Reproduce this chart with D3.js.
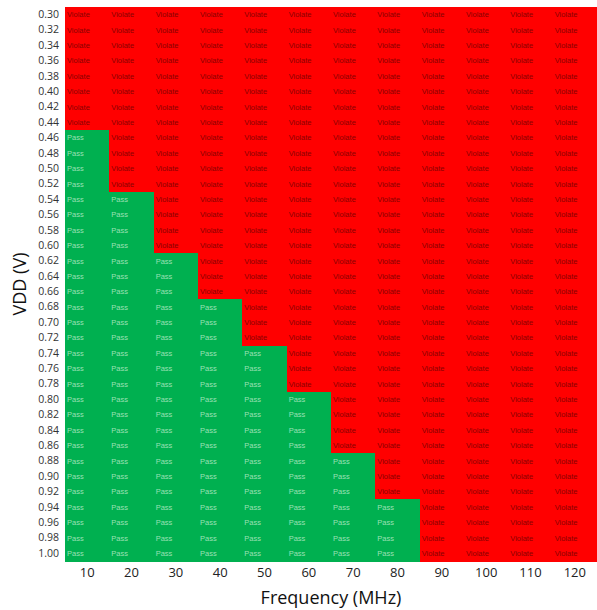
<!DOCTYPE html>
<html>
<head>
<meta charset="utf-8">
<script src="https://cdn.jsdelivr.net/npm/d3@7"></script>
<style>
  body { margin: 0; background: #fff; }
  text { font-family: "Open Sans", "Noto Sans", sans-serif; }
</style>
</head>
<body>
<div id="chart"></div>
<script>
var freqs = [10, 20, 30, 40, 50, 60, 70, 80, 90, 100, 110, 120];
var vdds = ["0.30","0.32","0.34","0.36","0.38","0.40","0.42","0.44","0.46","0.48",
            "0.50","0.52","0.54","0.56","0.58","0.60","0.62","0.64","0.66","0.68",
            "0.70","0.72","0.74","0.76","0.78","0.80","0.82","0.84","0.86","0.88",
            "0.90","0.92","0.94","0.96","0.98","1.00"];
// lowest passing VDD per frequency (null = violates everywhere)
var minPass = ["0.46", "0.54", "0.62", "0.68", "0.74", "0.80", "0.88", "0.94", null, null, null, null];

var margin = {top: 7, right: 0, bottom: 49, left: 65},
    width = 597 - margin.left - margin.right,
    height = 610 - margin.top - margin.bottom;

var svg = d3.select("#chart")
    .append("svg")
        .attr("width", 597)
        .attr("height", 610)
    .append("g")
        .attr("transform", "translate(" + margin.left + "," + margin.top + ")");

var x = d3.scaleBand().domain(freqs).range([0, width]);
var y = d3.scaleBand().domain(vdds).range([0, height]);

var cells = [];
freqs.forEach(function(f, i) {
    vdds.forEach(function(v) {
        var pass = minPass[i] !== null && +v >= +minPass[i];
        cells.push({f: f, v: v, pass: pass});
    });
});

svg.selectAll(".cell")
    .data(cells)
  .enter().append("rect")
    .attr("class", "cell")
    .attr("x", function(d) { return x(d.f); })
    .attr("y", function(d) { return y(d.v); })
    .attr("width", x.bandwidth() + 1)
    .attr("height", y.bandwidth() + 1)
    .attr("shape-rendering", "crispEdges")
    .attr("fill", function(d) { return d.pass ? "#00b050" : "#ff0000"; });

svg.selectAll(".lbl")
    .data(cells)
  .enter().append("text")
    .attr("class", "lbl")
    .attr("x", function(d) { return x(d.f) + 2; })
    .attr("y", function(d) { return y(d.v) + y.bandwidth() / 2; })
    .attr("dy", "0.35em")
    .style("font-family", "Liberation Sans, Arial, sans-serif")
    .style("font-size", "7.5px")
    .attr("fill", function(d) { return d.pass ? "#9be0b4" : "#8a0000"; })
    .text(function(d) { return d.pass ? "Pass" : "Violate"; });

var yAxis = svg.append("g")
    .call(d3.axisLeft(y).tickSize(0).tickPadding(6));
yAxis.select(".domain").remove();
yAxis.selectAll("text")
    .style("font-family", "Open Sans, sans-serif")
    .style("font-size", "10.5px")
    .attr("fill", "#333");

var xAxis = svg.append("g")
    .attr("transform", "translate(0," + height + ")")
    .call(d3.axisBottom(x).tickSize(0).tickPadding(7));
xAxis.select(".domain").remove();
xAxis.selectAll("text")
    .style("font-family", "Open Sans, sans-serif")
    .style("font-size", "13px")
    .attr("fill", "#222");

svg.append("text")
    .attr("x", width / 2)
    .attr("y", height + 43)
    .attr("text-anchor", "middle")
    .style("font-size", "18px")
    .attr("fill", "#111")
    .text("Frequency (MHz)");

svg.append("text")
    .attr("transform", "translate(" + (-39) + "," + (height / 2) + ") rotate(-90)")
    .attr("text-anchor", "middle")
    .style("font-size", "18px")
    .attr("fill", "#111")
    .text("VDD (V)");
</script>
</body>
</html>
